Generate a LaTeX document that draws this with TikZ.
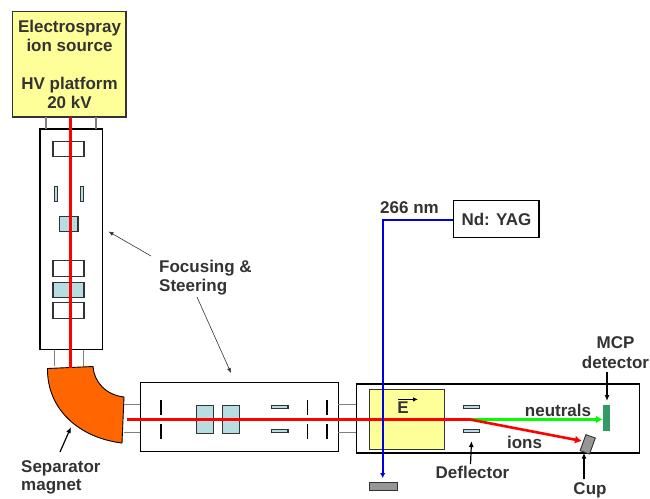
\documentclass[tikz,border=0pt]{standalone}
\usepackage{fontspec}
\setmainfont{Liberation Sans}
\usepackage{xcolor}
\usetikzlibrary{arrows.meta,positioning,calc}
\definecolor{ink}{HTML}{333333}
\definecolor{padyellow}{HTML}{FFFF99}
\definecolor{lens}{HTML}{B7DDE3}
\definecolor{magnetorange}{HTML}{FF6600}
\definecolor{mcpgreen}{HTML}{339966}
\definecolor{cupgray}{HTML}{969696}
\definecolor{beamblue}{HTML}{0000E0}
\tikzset{
  chamber/.style={draw=black,line width=1.3pt,fill=white,inner sep=0pt,outer sep=0pt},
  yellowbox/.style={chamber,fill=padyellow,draw=ink},
  lensbox/.style={draw=ink,line width=1.1pt,fill=lens,inner sep=0pt,outer sep=0pt},
  ringbox/.style={lensbox,fill=white},
  stub/.style={draw=gray,line width=1.1pt},
  slit/.style={draw=black,line width=1.3pt},
  lab/.style={font=\fontsize{17}{18.8}\selectfont\bfseries,text=ink,align=center,inner sep=0pt},
  leftlab/.style={lab,align=left},
  redbeam/.style={draw=red,line width=2.6pt},
  arr/.style={-{Latex[length=6pt,width=5pt]},draw=black,line width=1.2pt},
  thinarr/.style={-{Latex[length=5pt,width=4pt]},draw=ink,line width=0.6pt},
}
\begin{document}
\begin{tikzpicture}[x=1pt,y=-1pt]
  \useasboundingbox (0,0) rectangle (650,498);
  % source and vertical column
  \node[yellowbox,minimum width=113.5pt,minimum height=105.5pt] (source) at (69.25,64.25) {};
  \node[lab] (sourcetext) at (69.5,64.5) {Electrospray\\ion source\\[18.8pt]HV platform\\20 kV};
  \node[chamber,minimum width=62.5pt,minimum height=220.5pt] (column) at (71.25,239.25) {};
  \foreach \x in {46,96}{ \draw[stub] (source.south -| \x,0) -- (column.north -| \x,0); }
  \foreach \n/\y in {a/149,d/268.5,f/310.5}{
    \node[ringbox,minimum width=31pt,minimum height=15.5pt] (ring\n) at (68.5,\y) {};
  }
  \node[lensbox,minimum width=31pt,minimum height=15pt] (ringe) at (68.5,290) {};
  \node[lensbox,minimum width=18.5pt,minimum height=15pt] (squarelens) at (68.75,224) {};
  \foreach \n/\x in {l/55.7,r/82}{
    \node[lensbox,minimum width=3pt,minimum height=15.5pt] (slit\n) at (\x,194) {};
  }
  % magnet
  \coordinate (magnettop) at (70.5,367.5);
  \draw[draw=black,line width=0.9pt,fill=magnetorange] (47.5,368.5) -- (93,366.5)
    .. controls (94,382) and (106,395) .. (124,397) -- (122,443)
    .. controls (80,438) and (47,410) .. (47.5,368.5) -- cycle;
  \foreach \x in {54.5,83.5}{ \draw[stub] (column.south -| \x,0) -- (\x,366); }
  % middle chamber
  \node[chamber,minimum width=198pt,minimum height=69pt] (guide) at (239.3,416.8) {};
  \node[chamber,minimum width=283.5pt,minimum height=69pt] (trap) at (497.9,418.4) {};
  \foreach \y in {404.7,432.8}{
    \draw[stub] (124,\y) -- (guide.west |- 0,\y);
    \draw[stub] (guide.east |- 0,\y) -- (trap.west |- 0,\y);
  }
  \foreach \x in {161,307.7,327}{
    \draw[slit] (\x,400) -- (\x,414.6);
    \draw[slit] (\x,423.6) -- (\x,438.5);
  }
  \foreach \n/\x in {a/205,b/231}{
    \node[lensbox,minimum width=17pt,minimum height=27.5pt] (lens\n) at (\x,419.5) {};
  }
  \foreach \n/\y in {a/407.2,b/431.2}{
    \node[lensbox,minimum width=16.5pt,minimum height=3.2pt] (plate\n) at (279.7,\y) {};
  }
  % interaction region
  \node[yellowbox,line width=0.9pt,minimum width=75.5pt,minimum height=59.5pt] (field) at (406.75,419.25) {};
  \foreach \n/\y in {a/406.7,b/430.7}{
    \node[lensbox,minimum width=16.5pt,minimum height=3.2pt] (defl\n) at (471.5,\y) {};
  }
  \node[fill=mcpgreen,inner sep=0pt,minimum width=7pt,minimum height=26.5pt] (mcp) at (606.5,418.2) {};
  \node[draw=ink,line width=0.9pt,fill=cupgray,inner sep=0pt,minimum width=10pt,minimum height=17pt,rotate=-20] (cup) at (587.7,444.3) {};
  \node[draw=ink,line width=0.9pt,fill=cupgray,inner sep=0pt,minimum width=28pt,minimum height=8pt] (dump) at (383.5,486.5) {};
  % beams
  \coordinate (beamstart) at (127,419.5);
  \coordinate (split) at (470,419.5);
  \coordinate (sourcebeam) at (70.5,117);
  \draw[redbeam] (sourcebeam) -- (magnettop);
  \draw[redbeam] (beamstart) -- (split);
  \draw[-{Latex[length=7pt,width=8pt]},draw=green,line width=2.6pt] (split) -- (mcp.west |- split);
  \draw[-{Latex[length=7pt,width=8pt]},redbeam] (split) -- (582,441);
  \node[chamber,minimum width=85.5pt,minimum height=37.5pt] (yag) at (496.2,218.9) {};
  \node[lab] (yagtext) at (496.5,219) {Nd: YAG};
  \draw[-{Latex[length=5pt,width=5.5pt]},draw=beamblue,line width=1.6pt] (yag.west |- 0,220) -- (382.7,220) -- (382.7,478);
  % labels
  \node[lab] (wave) at (409.5,208) {266 nm};
  \node[lab] (efield) at (403,408) {E};
  \coordinate (ea) at (397.7,399.4);
  \coordinate (eb) at (418,399.4);
  \draw[-{Latex[length=5pt,width=4.5pt]},draw=black,line width=0.9pt] (ea) -- (eb);
  \node[leftlab,anchor=north west] (focus) at (159,259.5) {Focusing \&\\[1pt]Steering};
  \coordinate (fa) at (151,256);
  \coordinate (fb) at (108.5,231.5);
  \coordinate (fc) at (197,297);
  \coordinate (fd) at (231,373);
  \draw[thinarr] (fa) -- (fb);
  \draw[thinarr] (fc) -- (fd);
  \node[leftlab,anchor=north west] (septext) at (21,460) {Separator\\magnet};
  \coordinate (sa) at (60,452);
  \coordinate (sb) at (71,427);
  \draw[arr] (sa) -- (sb);
  \node[lab] (neutrals) at (558,410) {neutrals};
  \node[lab] (ions) at (524.5,442) {ions};
  \node[lab] (defltext) at (472.5,472.5) {Deflector};
  \draw[arr] (defltext.north -| defla) ++(-1,-2) -- (471.5,441);
  \node[lab] (cuptext) at (590,490.3) {Cup};
  \coordinate (ca) at (584,479);
  \draw[arr] (ca) -- (cup.south -| ca);
  \node[lab] (mcptext) at (615.5,352.5) {MCP\\[1pt]detector};
  \coordinate (ma) at (607,372);
  \draw[arr] (ma) -- (607,401);
\end{tikzpicture}
\end{document}
